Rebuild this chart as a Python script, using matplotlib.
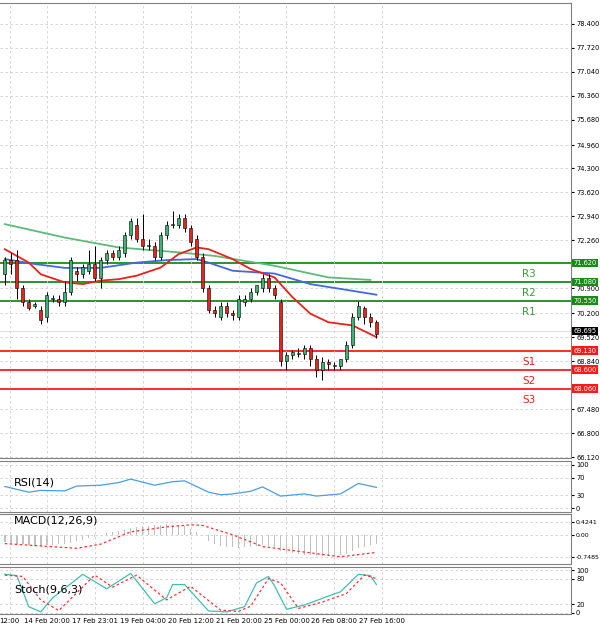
import numpy as np
import matplotlib
matplotlib.use("Agg")
import matplotlib.pyplot as plt

# candles (open, high, low, close)
opens  = [71.3, 71.7, 71.7, 70.9, 70.5, 70.4, 70.3, 70.1, 70.6, 70.6, 70.5, 70.8, 71.4, 71.3, 71.4, 71.6,
          71.2, 71.7, 71.9, 71.8, 71.9, 72.4, 72.7, 72.3, 72.1, 72.1, 71.8, 72.4, 72.7, 72.7, 72.9, 72.6,
          72.3, 71.8, 70.9, 70.3, 70.1, 70.4, 70.2, 70.1, 70.5, 70.6, 70.8, 70.9, 71.2, 70.9, 70.5, 68.85,
          69.0, 69.05, 69.05, 69.2, 68.9, 68.6, 68.8, 68.7, 68.7, 68.9, 69.3, 70.1, 70.35, 70.1, 69.95]
highs  = [71.8, 71.9, 72.0, 71.0, 70.6, 70.5, 70.4, 70.8, 70.7, 70.7, 71.1, 71.8, 71.5, 71.6, 72.0, 72.1,
          71.8, 72.0, 72.0, 72.1, 72.5, 72.9, 72.9, 73.0, 72.3, 72.2, 72.5, 72.8, 73.1, 73.0, 73.0, 72.7,
          72.4, 71.9, 71.0, 70.4, 70.5, 70.5, 70.3, 70.7, 70.7, 70.9, 71.0, 71.3, 71.3, 71.0, 70.6, 69.1,
          69.15, 69.2, 69.3, 69.3, 69.0, 68.95, 68.9, 68.8, 68.9, 69.4, 70.2, 70.55, 70.4, 70.2, 70.0]
lows   = [71.0, 71.3, 70.6, 70.4, 70.3, 70.35, 69.9, 69.95, 70.5, 70.4, 70.4, 70.7, 71.1, 71.2, 71.3, 71.1,
          70.9, 71.6, 71.7, 71.7, 71.8, 72.3, 72.2, 72.0, 72.0, 71.7, 71.7, 72.3, 72.6, 72.6, 72.5, 72.1,
          71.7, 70.8, 70.2, 70.1, 70.0, 70.1, 70.0, 70.0, 70.4, 70.5, 70.7, 70.8, 70.8, 70.6, 68.7, 68.6,
          68.9, 68.95, 68.9, 68.7, 68.4, 68.3, 68.6, 68.6, 68.6, 68.8, 69.2, 70.0, 69.9, 69.8, 69.5]
closes = [71.7, 71.6, 70.9, 70.5, 70.35, 70.45, 70.0, 70.7, 70.6, 70.5, 70.8, 71.7, 71.3, 71.5, 71.6, 71.2,
          71.7, 71.9, 71.8, 72.0, 72.4, 72.8, 72.3, 72.1, 72.1, 71.8, 72.4, 72.7, 72.7, 72.9, 72.6, 72.2,
          71.8, 70.9, 70.3, 70.2, 70.4, 70.2, 70.15, 70.6, 70.6, 70.8, 71.0, 71.2, 70.9, 70.7, 68.85, 69.0,
          69.1, 69.05, 69.2, 68.9, 68.6, 68.8, 68.75, 68.7, 68.9, 69.3, 70.1, 70.4, 70.1, 69.95, 69.6]

# moving averages (candle index, value)
ma_red_x = [0, 4, 6, 10, 13, 16, 19, 22, 26, 29, 32, 34, 38, 41, 45, 48, 51, 54, 58, 62]
ma_red   = [72.01, 71.63, 71.30, 71.07, 71.02, 71.12, 71.16, 71.26, 71.49, 71.87, 72.06, 72.01, 71.73,
            71.45, 71.21, 70.65, 70.18, 69.94, 69.85, 69.52]
ma_blue_x = [0, 5, 10, 16, 22, 27, 32, 34, 38, 45, 51, 58, 62]
ma_blue   = [71.73, 71.59, 71.48, 71.48, 71.63, 71.70, 71.73, 71.63, 71.40, 71.32, 71.02, 70.83, 70.72]
ma_green_x = [0, 10, 19, 29, 35, 45, 54, 61]
ma_green   = [72.72, 72.34, 72.06, 71.92, 71.82, 71.54, 71.21, 71.14]

levels = [71.62, 71.08, 70.55, 69.13, 68.60, 68.06]
level_names = ["R3", "R2", "R1", "S1", "S2", "S3"]
last_price = 69.695

price_ticks = [78.400, 77.720, 77.040, 76.360, 75.680, 74.960, 74.300, 73.620, 72.940, 72.260,
               70.900, 70.200, 69.520, 68.840, 67.480, 66.800, 66.120]

rsi_x = [0, 4, 6, 10, 12, 16, 19, 21, 25, 28, 30, 34, 36, 38, 41, 43, 46, 50, 52, 56, 59, 62]
rsi   = [50, 37, 41, 40, 51, 53, 59, 67, 53, 61, 63, 37, 31, 33, 39, 49, 28, 33, 28, 33, 57, 48]

macd_hist = [-0.25, -0.28, -0.3, -0.32, -0.35, -0.37, -0.38, -0.36, -0.35, -0.33, -0.3, -0.27, -0.22, -0.18,
             -0.12, -0.06, 0.0, 0.05, 0.1, 0.14, 0.18, 0.22, 0.26, 0.29, 0.31, 0.33, 0.35, 0.36, 0.35, 0.33,
             0.3, 0.2, 0.08, -0.05, -0.22, -0.32, -0.38, -0.4, -0.42, -0.44, -0.43, -0.4, -0.38, -0.36, -0.37,
             -0.4, -0.55, -0.6, -0.63, -0.65, -0.68, -0.7, -0.72, -0.72, -0.73, -0.72, -0.7, -0.65, -0.55,
             -0.45, -0.4, -0.36, -0.33]
sig_x = [0, 12, 16, 21, 27, 31, 33, 38, 43, 50, 56, 62]
macd_sig = [-0.3, -0.46, -0.32, 0.1, 0.27, 0.34, 0.32, 0.0, -0.4, -0.59, -0.75, -0.6]

stoch_x = [0, 2, 4, 6, 8, 13, 17, 21, 25, 27, 28, 30, 34, 37, 40, 42, 44, 45, 47, 50, 54, 56, 59, 61, 62]
stoch_k = [90, 87, 14, 2, 35, 90, 56, 92, 21, 35, 66, 66, 4, 2, 14, 70, 85, 63, 8, 18, 39, 49, 90, 87, 66]
stoch_sx = [0, 3, 6, 9, 15, 18, 22, 27, 31, 36, 39, 41, 44, 46, 49, 53, 57, 60, 62]
stoch_d = [88, 85, 30, 5, 88, 60, 88, 30, 62, 6, 3, 15, 80, 70, 10, 25, 45, 88, 80]

time_pos = [0.8, 7.0, 15.0, 23.0, 31.0, 39.0, 47.0, 55.0, 63.0]
time_labels = ["12:00", "14 Feb 20:00", "17 Feb 23:01", "19 Feb 04:00", "20 Feb 12:00",
               "21 Feb 20:00", "25 Feb 00:00", "26 Feb 08:00", "27 Feb 16:00"]

W = 0.952
fig = plt.figure(figsize=(6, 6.31), dpi=100)
ax = fig.add_axes([0.0, 0.274, W, 0.722])
ax_rsi = fig.add_axes([0.0, 0.189, W, 0.080])
ax_macd = fig.add_axes([0.0, 0.106, W, 0.079])
ax_st = fig.add_axes([0.0, 0.027, W, 0.075])
XL = (-0.8, 94.5)

def style(a):
    a.set_xlim(*XL)
    a.yaxis.tick_right()
    a.tick_params(axis="y", labelsize=4.8, length=2, pad=1.5)
    a.tick_params(axis="x", length=0)
    a.set_xticks(time_pos)
    a.set_xticklabels([])
    a.grid(True, color="#d0d0d0", linestyle=(0, (3, 3)), linewidth=0.6)
    for s in a.spines.values():
        s.set_color("#808080")
        s.set_linewidth(0.8)
    a.spines["left"].set_visible(False)

# price panel
style(ax)
n = len(closes)
for i in range(n):
    up = closes[i] >= opens[i]
    col = "#3cb371" if up else "#e8231a"
    ax.vlines(i, lows[i], highs[i], color="black", linewidth=0.7, zorder=3)
    lo, hi = min(opens[i], closes[i]), max(opens[i], closes[i])
    ax.bar(i, max(hi - lo, 0.02), bottom=lo, width=0.55, color=col, edgecolor="black",
           linewidth=0.4, zorder=4)
ax.plot(ma_green_x, ma_green, color="#5dbb7a", linewidth=1.3, zorder=2)
ax.plot(ma_blue_x, ma_blue, color="#4169e1", linewidth=1.3, zorder=2)
ax.plot(ma_red_x, ma_red, color="#e8231a", linewidth=1.3, zorder=2)
for lv, nm in zip(levels, level_names):
    c = "#1a8a1a" if nm.startswith("R") else "#ff1a1a"
    ax.axhline(lv, color=c, linewidth=1.3, zorder=1)
    ax.text(87.5, lv - 0.17, nm, color="#3c9a3c" if nm.startswith("R") else "#e8231a",
            fontsize=7.5, ha="center", va="top")
    ax.text(1.004, lv, f"{lv:.3f}", transform=ax.get_yaxis_transform(), fontsize=4.8,
            color="white", ha="left", va="center", zorder=6,
            bbox=dict(boxstyle="square,pad=0.2", fc=c, ec="none"))
ax.axhline(last_price, color="#e0e0e0", linewidth=0.8, zorder=1)
ax.text(1.004, last_price, f"{last_price:.3f}", transform=ax.get_yaxis_transform(), fontsize=4.8,
        color="white", ha="left", va="center", zorder=6,
        bbox=dict(boxstyle="square,pad=0.2", fc="black", ec="none"))
ax.set_ylim(66.09, 79.0)
ax.set_yticks(price_ticks)
ax.set_yticklabels([f"{v:.3f}" for v in price_ticks])

# RSI
style(ax_rsi)
ax_rsi.plot(rsi_x, rsi, color="#4a9ee8", linewidth=0.9)
ax_rsi.set_ylim(-8, 108)
ax_rsi.set_yticks([0, 30, 70, 100])
ax_rsi.text(1.5, 60, "RSI(14)", fontsize=8, va="center")

# MACD
style(ax_macd)
ax_macd.bar(range(n), macd_hist, width=0.25, color="#c0c0c0")
ax_macd.plot(sig_x, macd_sig, color="#ff3030", linestyle=(0, (2, 2)), linewidth=0.9)
ax_macd.set_ylim(-1.0, 0.7)
ax_macd.set_yticks([-0.7485, 0.0, 0.4241])
ax_macd.set_yticklabels(["-0.7485", "0.00", "0.4241"])
ax_macd.tick_params(axis="y", labelsize=4.5, pad=1)
ax_macd.text(1.5, 0.5, "MACD(12,26,9)", fontsize=8, va="center")

# Stochastic
style(ax_st)
ax_st.plot(stoch_x, stoch_k, color="#40c0b0", linewidth=0.9)
ax_st.plot(stoch_sx, stoch_d, color="#ff3030", linestyle=(0, (2, 2)), linewidth=0.9)
ax_st.set_ylim(-3, 108)
ax_st.set_yticks([0, 20, 80, 100])
ax_st.text(1.5, 55, "Stoch(9,6,3)", fontsize=8, va="center")
ax_st.set_xticklabels(time_labels, fontsize=5)
ax_st.tick_params(axis="x", pad=3)

fig.savefig("out.png", dpi=100, facecolor="white")
